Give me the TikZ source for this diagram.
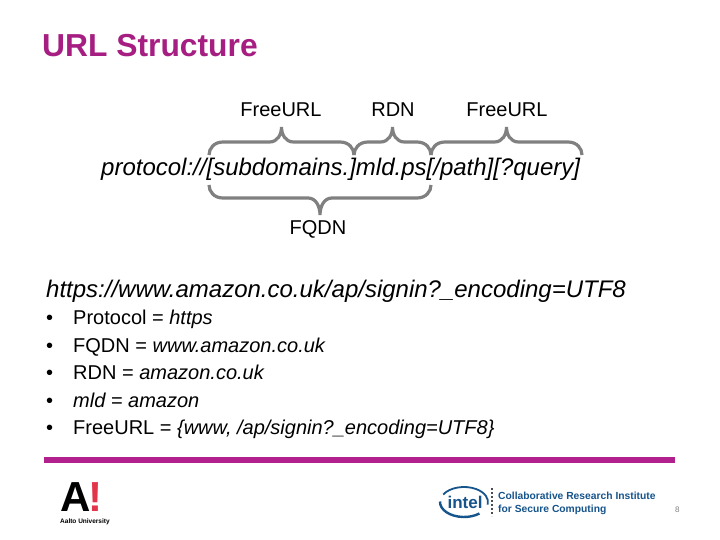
\documentclass[tikz,border=0pt]{standalone}
\usepackage{fontspec}
\setmainfont{Liberation Sans}
\usetikzlibrary{calc, positioning}
\definecolor{titlepurple}{RGB}{166,30,130}
\definecolor{barpurple}{RGB}{178,32,142}
\definecolor{bracegray}{RGB}{128,128,128}
\definecolor{intelblue}{RGB}{22,84,140}
\definecolor{alvared}{RGB}{226,52,74}

\begin{document}
\begin{tikzpicture}[
		x=1pt, y=-1pt,
		Label/.style = {inner sep=0pt, font=\fontsize{20}{24}\selectfont},
		UrlLine/.style = {inner sep=0pt, anchor=base west, font=\fontsize{24}{28}\selectfont\itshape},
		Item/.style = {inner sep=0pt, anchor=base west, font=\fontsize{20}{24}\selectfont},
		CrcText/.style = {inner sep=0pt, anchor=base west, text=intelblue, font=\fontsize{10.3}{12}\selectfont\bfseries},
		UrlBrace/.style 2 args = {
			draw=bracegray, line width=3.2pt,
			to path={
				let \p1=(\tikztostart), \p2=(\tikztotarget), \n1={0.5*(\x1+\x2)} in
				(\tikztostart) .. controls (\x1,\y1+0.5*#1) and (\x1+5pt,\y1+#1) .. (\x1+14pt,\y1+#1)
				-- (\n1-12pt,\y1+#1) .. controls (\n1-4pt,\y1+#1) and (\n1,\y1+0.5*#1+0.5*#2) .. (\n1,\y1+#2)
				.. controls (\n1,\y1+0.5*#1+0.5*#2) and (\n1+4pt,\y1+#1) .. (\n1+12pt,\y1+#1)
				-- (\x2-14pt,\y1+#1) .. controls (\x2-5pt,\y1+#1) and (\x2,\y1+0.5*#1) .. (\tikztotarget)
			}
		}
	]
	\useasboundingbox (0,0) rectangle (720,540);
	\fill[white] (0,0) rectangle (720,540);

	\node (title) [inner sep=0pt, anchor=base west, text=titlepurple, font=\fontsize{31.8}{36}\selectfont\bfseries] at (42,57) {URL Structure};

	% url pattern with its braces
	\node (pattern) [UrlLine] at (101,176) {protocol://[subdomains.]mld.ps[/path][?query]};
	\node (free1) [Label] at (281,110) {FreeURL};
	\node (rdn) [Label] at (393,110) {RDN};
	\node (free2) [Label] at (507,110) {FreeURL};
	\node (fqdn) [Label] at (318,229) {FQDN};

	\coordinate (p1) at (209,155);
	\coordinate (p2) at (354,155);
	\coordinate (p3) at (431,155);
	\coordinate (p4) at (582,155);
	\coordinate (q1) at (209,185);
	\coordinate (q2) at (431,185);
	\draw[UrlBrace={13pt}{28pt}] (p1) to (p2);
	\draw[UrlBrace={13pt}{28pt}] (p2) to (p3);
	\draw[UrlBrace={13pt}{28pt}] (p3) to (p4);
	\draw[UrlBrace={-13pt}{-30pt}] (q1) to (q2);

	\node (example) [UrlLine] at (46,297) {https://www.amazon.co.uk/ap/signin?\_encoding=UTF8};

	% bullets
	\foreach \n/\y in {1/324, 2/352, 3/379, 4/407, 5/434}
		\node (dot\n) [Item] at (46,\y) {•};
	\node (item1) [Item] at (73,324) {Protocol = \textit{https}};
	\node (item2) [Item] at (73,352) {FQDN = \textit{www.amazon.co.uk}};
	\node (item3) [Item] at (73,379) {RDN = \textit{amazon.co.uk}};
	\node (item4) [Item] at (73,407) {\textit{mld = amazon}};
	\node (item5) [Item] at (73,434) {FreeURL = \textit{\{www, /ap/signin?\_encoding=UTF8\}}};

	\fill[barpurple] (44,457) rectangle (675,463);

	% aalto logo
	\node (alogo) [inner sep=0pt, anchor=base west, font=\fontsize{42}{42}\selectfont\bfseries] at (60,511) {A};
	\node (bang) [inner sep=0pt, anchor=base west, text=alvared, font=\fontsize{42}{42}\selectfont\bfseries] at (88,511) {!};
	\node (aalto) [inner sep=0pt, anchor=base west, font=\fontsize{6.5}{8}\selectfont\bfseries] at (60,523) {Aalto University};

	% intel logo
	\coordinate (intelc) at (464,502);
	\draw[intelblue, line width=1.8pt] (intelc) ++(150:24pt and 15pt) arc [start angle=150, end angle=-10, x radius=24pt, y radius=15pt];
	\draw[intelblue, line width=2.4pt] (intelc) ++(178:24pt and 15pt) arc [start angle=178, end angle=310, x radius=24pt, y radius=15pt];
	\node (intel) [inner sep=0pt, text=intelblue, font=\fontsize{17}{20}\selectfont\bfseries] at (465,502) {intel};
	\draw[black!70, line width=2pt, dotted] (492,488) -- (492,516);
	\node (crc1) [CrcText] at (498,499) {Collaborative Research Institute};
	\node (crc2) [CrcText] at (498,512) {for Secure Computing};
	\node (page) [inner sep=0pt, anchor=base west, text=black!50, font=\fontsize{8}{10}\selectfont] at (675,512) {8};
\end{tikzpicture}
\end{document}
